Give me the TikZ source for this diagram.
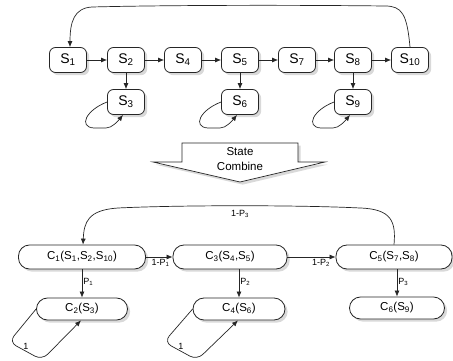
\documentclass[tikz,border=0pt]{standalone}
\usepackage{fontspec}
\setmainfont{Liberation Sans}
\usetikzlibrary{arrows.meta,shadows}

\tikzset{
  snode/.style={draw=black!85, line width=0.8pt, rounded corners=6pt, fill=white,
    minimum width=37pt, minimum height=25pt, inner sep=0pt,
    font=\fontsize{14}{16}\selectfont, drop shadow={opacity=0.3}},
  cnode/.style={draw=black!85, line width=0.8pt, rounded corners=11pt, fill=white,
    minimum height=24pt, inner sep=0pt,
    font=\fontsize{11.5}{13}\selectfont, drop shadow={opacity=0.3}},
  arr/.style={-{Latex[length=6pt,width=5pt]}, line width=0.7pt, draw=black!85},
  lbl/.style={font=\fontsize{9}{11}\selectfont, inner sep=1pt},
}
\newcommand{\sub}[1]{\textsubscript{#1}}

\begin{document}
\begin{tikzpicture}[x=1pt,y=-1pt]
\useasboundingbox (0,0) rectangle (453,361);

% original states
\node[snode] (s1) at (68,60) {S\sub{1}};
\node[snode] (s2) at (126,60) {S\sub{2}};
\node[snode] (s4) at (183,60) {S\sub{4}};
\node[snode] (s5) at (240,60) {S\sub{5}};
\node[snode] (s7) at (297,60) {S\sub{7}};
\node[snode] (s8) at (353,60) {S\sub{8}};
\node[snode] (s10) at (410,60) {S\sub{10}};
\node[snode] (s3) at (126,102) {S\sub{3}};
\node[snode] (s6) at (240,102) {S\sub{6}};
\node[snode] (s9) at (353,102) {S\sub{9}};

\foreach \a/\b in {s1/s2,s2/s4,s4/s5,s5/s7,s7/s8,s8/s10}
  \draw[arr] (\a) -- (\b);
\foreach \a/\b in {s2/s3,s5/s6,s8/s9}
  \draw[arr] (\a) -- (\b);
\foreach \n/\x in {s3/126,s6/240,s9/353}
  \draw[arr] (\n.west) .. controls (\x-40,110) and (\x-48,127) .. (\x-32,128)
    -- (\x-20,128) .. controls (\x-14,128) and (\x-8,121) .. ([xshift=-3pt]\n.south);

\draw[arr] (s10.north) .. controls (407,14) and (402,6) .. (385,6)
  .. controls (300,5) and (170,5) .. (92,7)
  .. controls (74,8) and (70,22) .. ([xshift=2pt]s1.north);

% state combine arrow
\draw[line width=0.7pt, draw=black!85, fill=white, drop shadow={opacity=0.3}]
  (182,143) -- (298,143) -- (298,162) -- (325,162) -- (240,182)
  -- (153,162) -- (182,162) -- cycle;
\node[align=center, font=\fontsize{11.5}{15}\selectfont] (combine) at (240,159) {State\\Combine};

% combined states
\node[cnode, minimum width=127pt] (c1) at (82,257) {C\sub{1}(S\sub{1},S\sub{2},S\sub{10})};
\node[cnode, minimum width=114pt] (c3) at (230,257) {C\sub{3}(S\sub{4},S\sub{5})};
\node[cnode, minimum width=116pt] (c5) at (394,257) {C\sub{5}(S\sub{7},S\sub{8})};
\node[cnode, minimum width=91pt, minimum height=22pt] (c2) at (82,309) {C\sub{2}(S\sub{3})};
\node[cnode, minimum width=92pt, minimum height=22pt] (c4) at (239,309) {C\sub{4}(S\sub{6})};
\node[cnode, minimum width=95pt, minimum height=22pt] (c6) at (397,308) {C\sub{6}(S\sub{9})};

\draw[arr] (c1) -- node[lbl, below=1pt, pos=0.55] {1-P\sub{1}} (c3);
\draw[arr] (c3) -- node[lbl, below=1pt, pos=0.7] {1-P\sub{2}} (c5);
\draw[arr] (c1) -- node[lbl, right, pos=0.45] {P\sub{1}} (c2);
\draw[arr] (c3.south -| c4) -- node[lbl, right, pos=0.45] {P\sub{2}} (c4);
\draw[arr] (c5.south -| c6) -- node[lbl, right, pos=0.45] {P\sub{3}} (c6);

\foreach \n/\x in {c2/0,c4/155}{
  \draw[arr, rounded corners=8pt] (\n.west) -- (\x+9,342) -- (\x+42,360) -- ([xshift=-1pt]\n.south);
  \node[lbl] (one\n) at (\x+26,346) {1};
}

\draw[arr] (c5.north) .. controls (396,222) and (392,209) .. (360,208)
  .. controls (300,205) and (180,205) .. (118,208)
  .. controls (88,210) and (84,222) .. ([xshift=1pt]c1.north);
\node[lbl] (p3) at (240,214) {1-P\sub{3}};
\end{tikzpicture}
\end{document}
